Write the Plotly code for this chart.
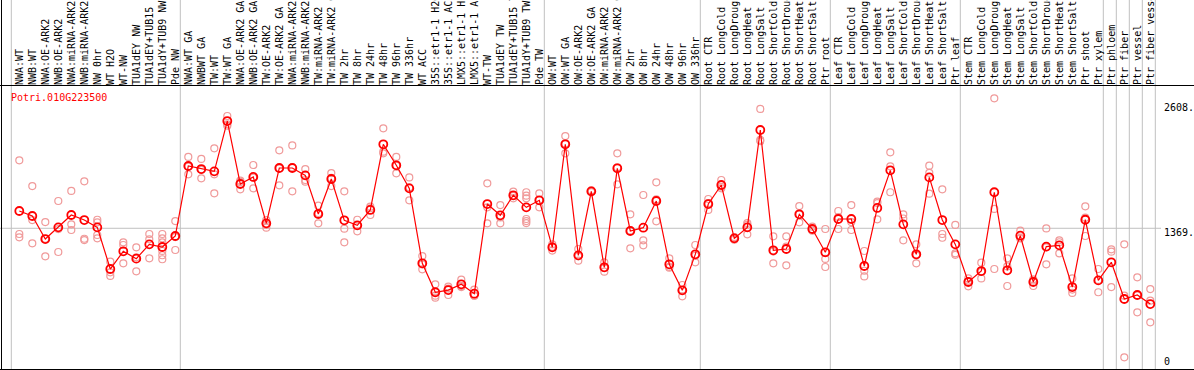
import plotly.graph_objects as go

# ---------------- data ----------------
categories = [
    "NWA:WT", "NWB:WT", "NWA:OE-ARK2", "NWB:OE-ARK2", "NWA:miRNA-ARK2", "NWB:miRNA-ARK2",
    "NW 0hr", "WT H2O", "WT-NW", "TUA1dEY NW", "TUA1dEY+TUB15 NW", "TUA1dY+TUB9 NW", "Pde NW",
    "NWA:WT GA", "NWBWT GA", "TW:WT", "TW:WT GA", "NWA:OE-ARK2 GA", "NWB:OE-ARK2 GA",
    "TW:OE-ARK2", "TW:OE-ARK2 GA", "NWA:miRNA-ARK2 GA", "NWB:miRNA-ARK2 GA", "TW:miRNA-ARK2",
    "TW:miRNA-ARK2 GA", "TW 2hr", "TW 8hr", "TW 24hr", "TW 48hr", "TW 96hr", "TW 336hr",
    "WT ACC", "35S::etr1-1 H2O", "35S::etr1-1 ACC", "LMX5::etr1-1 H2O", "LMX5::etr1-1 ACC",
    "WT-TW", "TUA1dEY TW", "TUA1dEY+TUB15 TW", "TUA1dY+TUB9 TW", "Pde TW",
    "OW:WT", "OW:WT GA", "OW:OE-ARK2", "OW:OE-ARK2 GA", "OW:miRNA-ARK2", "OW:miRNA-ARK2 GA",
    "OW 2hr", "OW 8hr", "OW 24hr", "OW 48hr", "OW 96hr", "OW 336hr",
    "Root CTR", "Root LongCold", "Root LongDrought", "Root LongHeat", "Root LongSalt",
    "Root ShortCold", "Root ShortDrought", "Root ShortHeat", "Root ShortSalt", "Ptr root",
    "Leaf CTR", "Leaf LongCold", "Leaf LongDrought", "Leaf LongHeat", "Leaf LongSalt",
    "Leaf ShortCold", "Leaf ShortDrought", "Leaf ShortHeat", "Leaf ShortSalt", "Ptr leaf",
    "Stem CTR", "Stem LongCold", "Stem LongDrought", "Stem LongHeat", "Stem LongSalt",
    "Stem ShortCold", "Stem ShortDrought", "Stem ShortHeat", "Stem ShortSalt", "Ptr shoot",
    "Ptr xylem", "Ptr phloem", "Ptr fiber", "Ptr vessel", "Ptr fiber vessel",
]

means = [
    1541, 1491, 1262, 1378, 1501, 1451, 1378, 964, 1140, 1067, 1209, 1183, 1292,
    1988, 1958, 1935, 2435, 1809, 1879, 1418, 1968, 1968, 1895, 1511, 1859, 1448, 1398,
    1551, 2204, 1995, 1766, 1021, 733, 755, 812, 719, 1610, 1498, 1697, 1577, 1647,
    1180, 2204, 1100, 1736, 981, 1965, 1342, 1375, 1640, 1011, 752, 1110,
    1610, 1799, 1269, 1378, 2346, 1150, 1163, 1508, 1362, 1130,
    1461, 1461, 994, 1571, 1945, 1408, 1110, 1875, 1451, 1209,
    835, 944, 1727, 951, 1295, 835, 1187, 1200, 785, 1454, 851,
    1031, 666, 706, 616,
]

replicates = [
    [2044, 1312, 1279], [1789, 1451, 1219], [1431, 1090, 1265], [1640, 1133, 1361],
    [1740, 1408, 1352], [1836, 1252, 1265], [1454, 1428, 1302, 1269], [1037, 931, 895],
    [1229, 1203, 1021], [1180, 941, 1080], [1312, 1259, 1070],
    [1312, 1269, 1229, 1144, 1101, 1061], [1441, 1153, 1282],
    [2078, 1905, 1981], [2058, 1866, 1950], [2164, 1905, 1716], [2485, 2402, 2389],
    [1842, 1756, 1830], [1998, 1766, 1873], [1451, 1402, 1375], [2144, 1796, 1965],
    [2193, 1736, 1975], [1958, 1849, 1832], [1594, 1418, 1521], [1918, 1789, 1870],
    [1736, 1365, 1229], [1454, 1339, 1401], [1584, 1501, 1568], [2363, 2130, 2114],
    [2078, 1915, 1992], [1875, 1647, 1776], [1093, 961, 1009], [812, 699, 679],
    [789, 706, 770], [858, 785, 793], [759, 699, 699], [1816, 1577, 1418],
    [1600, 1418, 1477], [1733, 1667, 1690], [1727, 1693, 1667, 1461, 1441, 1421],
    [1716, 1577, 1650],
    [1147, 1209, 1185], [2286, 2114, 2212], [1163, 1047, 1090], [1746, 1727, 1736],
    [1031, 938, 975], [2114, 1806, 1975], [1508, 1170, 1348], [1700, 1249, 1200],
    [1826, 1438, 1656], [1070, 977, 986], [805, 693, 758], [1203, 1031, 1096],
    [1660, 1551, 1619], [1849, 1766, 1782], [1282, 1256, 1269], [1421, 1309, 1404],
    [2555, 2247, 2236], [1289, 1021, 1140], [1289, 1187, 1001], [1590, 1428, 1506],
    [1385, 1345, 1356], [1362, 1064, 984],
    [1541, 1362, 1480], [1600, 1431, 1352], [1143, 947, 890], [1633, 1458, 1620],
    [2124, 1727, 1985], [1508, 1249, 1466], [1209, 1021, 1100], [1991, 1713, 1920],
    [1756, 1312, 1275], [1402, 1120, 1105],
    [871, 792, 843], [1027, 871, 935], [2661, 1561, 964], [1070, 795, 990],
    [1345, 1269, 1272], [862, 795, 848], [1368, 1011, 1180], [1249, 1120, 1230],
    [871, 726, 760], [1587, 1292, 1474], [964, 733, 856],
    [1160, 1136, 785], [1209, 699, 86], [881, 534, 703], [765, 649, 434],
]

group_starts = [0, 13, 41, 53, 63, 73, 84, 85, 86, 87, 88]
axis_labels = ["2608.", "1369.", "0"]
gene_id = "Potri.010G223500"

# ---------------- geometry ----------------
W, H = 1194, 370
TOP = 86
PLOT_H = H - TOP
X_RANGE = [-1.4846, 90.3615]
Y_RANGE = [-39.76, 2783.3]
MONO = "DejaVu Sans Mono"


def xpaper(xd):
    return (xd - X_RANGE[0]) / (X_RANGE[1] - X_RANGE[0])


def ypaper(py):
    return (H - py) / PLOT_H


xs = list(range(len(categories)))
rx, ry = [], []
for i, reps in enumerate(replicates):
    for v in reps:
        rx.append(i)
        ry.append(v)

fig = go.Figure()
fig.add_trace(go.Scatter(
    x=rx, y=ry, mode="markers",
    marker=dict(symbol="circle-open", size=7, color="#f09a9a", line=dict(width=1.2)),
    hoverinfo="skip", showlegend=False,
))
fig.add_trace(go.Scatter(
    x=xs, y=means, mode="lines+markers",
    line=dict(color="#ff0000", width=1.2),
    marker=dict(symbol="circle-open", size=8, color="#ff0000", line=dict(width=1.8)),
    showlegend=False,
))

shapes = []
# group separators (full height, through label header)
for g in group_starts:
    xp = xpaper(g - 8 / 13)
    shapes.append(dict(type="line", xref="paper", yref="paper", x0=xp, x1=xp,
                       y0=0, y1=H / PLOT_H, line=dict(color="#c0c0c0", width=1), layer="below"))
# horizontal gridline at middle tick
shapes.append(dict(type="line", xref="paper", yref="y", x0=0, x1=1161 / W,
                   y0=1369, y1=1369, line=dict(color="#c0c0c0", width=1), layer="below"))
# borders
shapes.append(dict(type="line", xref="paper", yref="paper", x0=0, x1=1,
                   y0=ypaper(85.5), y1=ypaper(85.5), line=dict(color="black", width=1)))
shapes.append(dict(type="line", xref="paper", yref="paper", x0=0, x1=1,
                   y0=ypaper(369.5), y1=ypaper(369.5), line=dict(color="black", width=1)))
shapes.append(dict(type="line", xref="paper", yref="paper", x0=1.5 / W, x1=1.5 / W,
                   y0=ypaper(370), y1=ypaper(0), line=dict(color="black", width=1)))

annotations = [
    dict(text=gene_id, xref="paper", yref="paper", x=9 / W, y=ypaper(97.5),
         xanchor="left", yanchor="middle", showarrow=False,
         font=dict(family=MONO, size=10, color="#ff0000")),
]
for lab, py in zip(axis_labels, [107.7, 232.3, 361.7]):
    annotations.append(dict(text=lab, xref="paper", yref="paper", x=1162 / W, y=ypaper(py),
                            xanchor="left", yanchor="middle", showarrow=False,
                            font=dict(family=MONO, size=10, color="black")))

fig.update_layout(
    width=W, height=H,
    margin=dict(l=0, r=0, t=TOP, b=0, pad=0),
    paper_bgcolor="white", plot_bgcolor="white",
    template="none",
    shapes=shapes, annotations=annotations,
    xaxis=dict(range=X_RANGE, side="top", tickmode="array", tickvals=xs, ticktext=categories,
               tickangle=-90, showgrid=False, zeroline=False, showline=False, ticks="",
               tickfont=dict(family=MONO, size=10, color="black"), automargin=False,
               fixedrange=True),
    yaxis=dict(range=Y_RANGE, showticklabels=False, showgrid=False, zeroline=False,
               showline=False, ticks="", automargin=False, fixedrange=True),
)

fig.write_html(
    "out.html",
    config={"displayModeBar": False},
    post_script="document.body.style.margin='0';document.body.style.overflow='hidden';",
)
